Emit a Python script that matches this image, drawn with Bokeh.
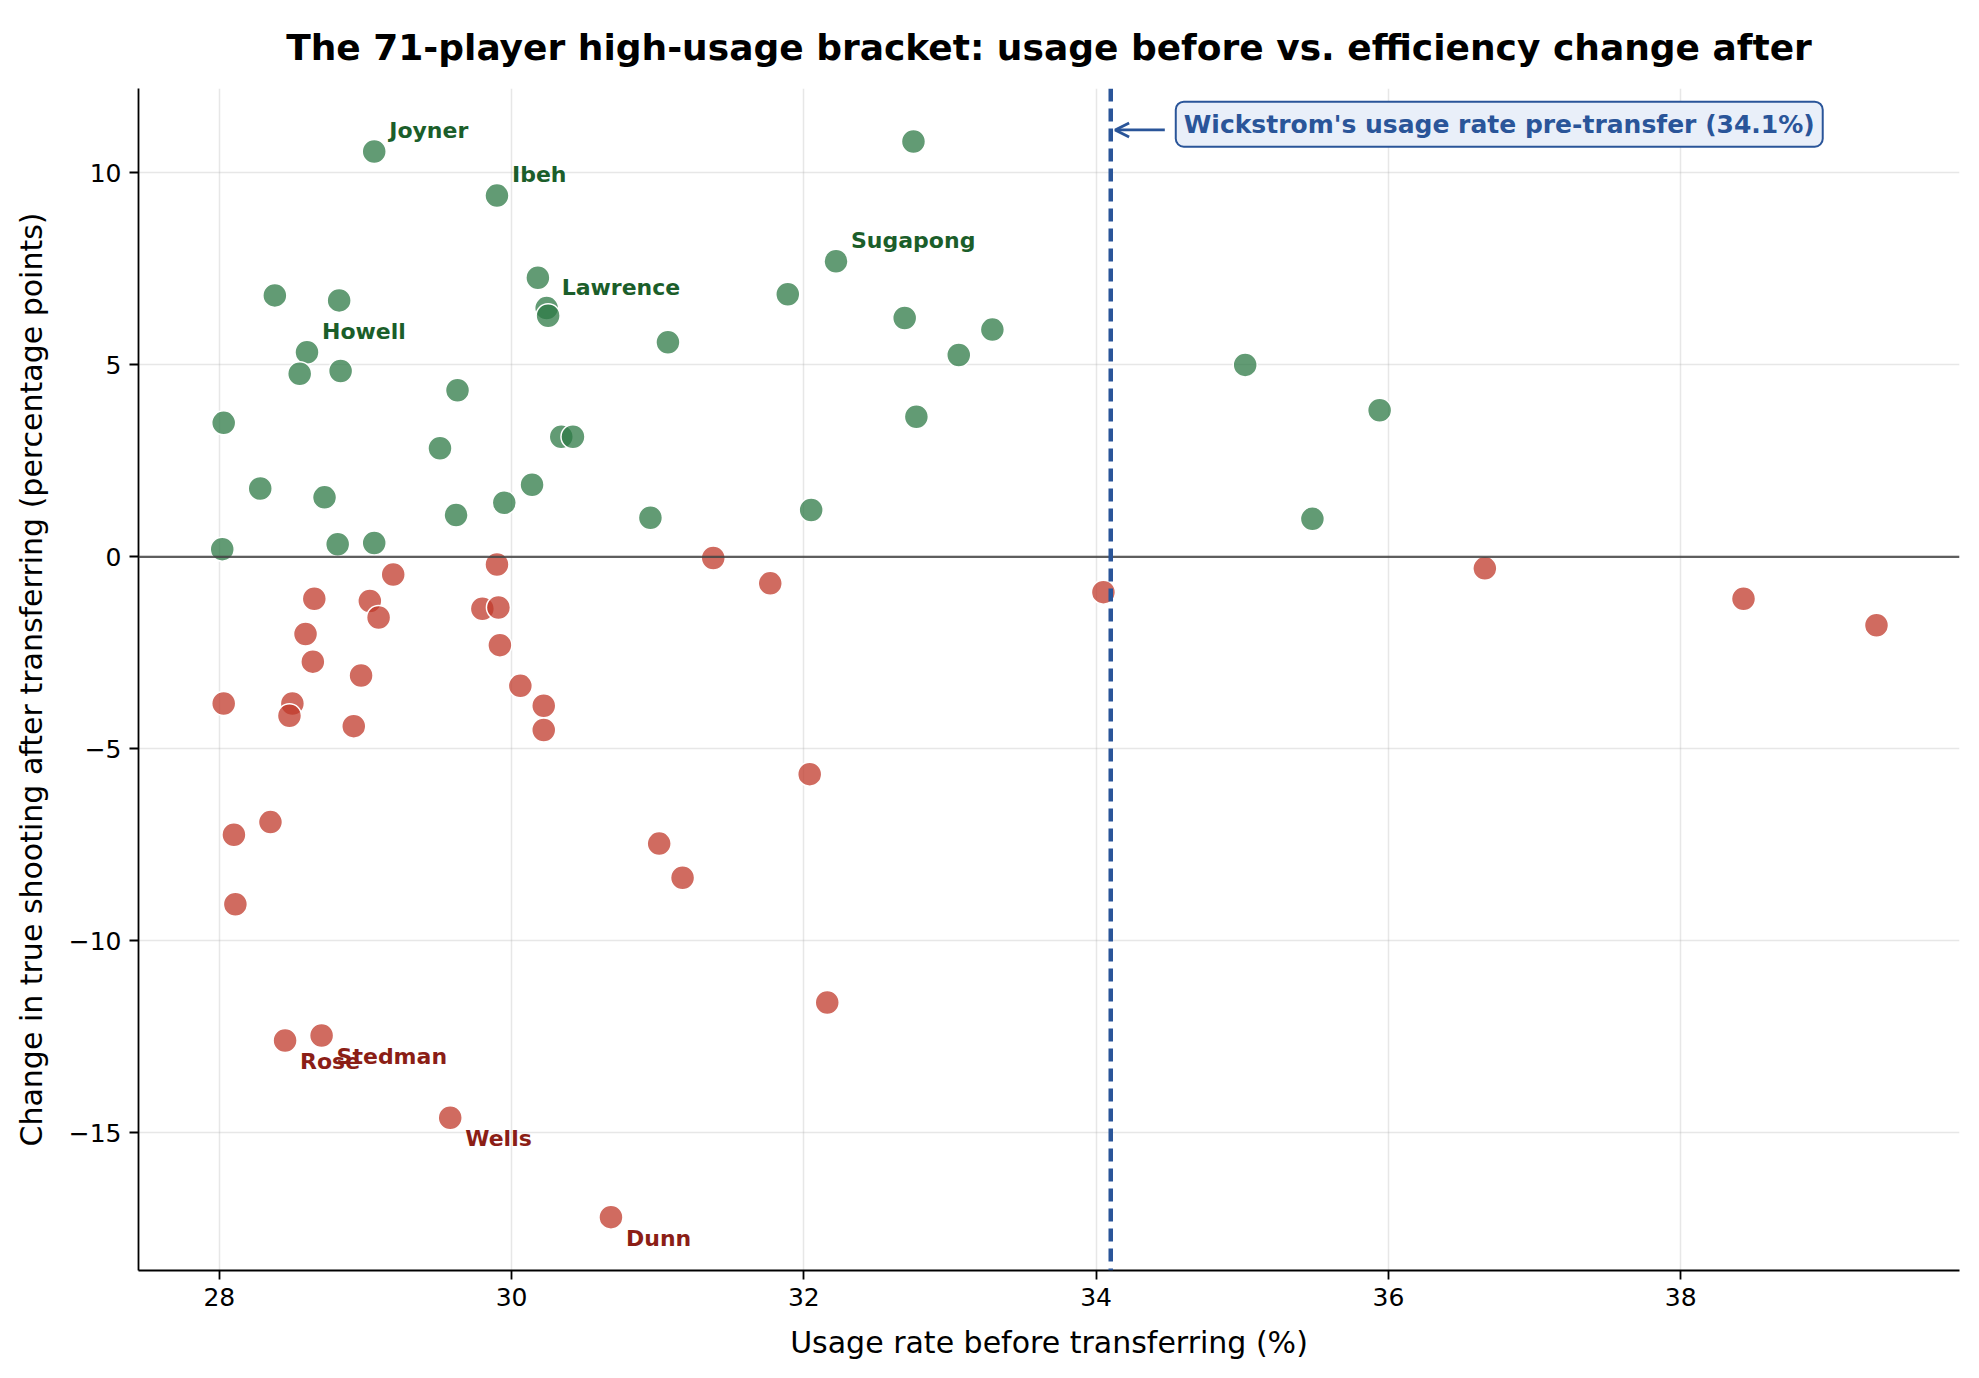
from bokeh.plotting import figure
from bokeh.models import ColumnDataSource, LabelSet, Label, Span, Arrow, OpenHead, FixedTicker
from bokeh.core.properties import value
from bokeh.embed import file_html
from bokeh.resources import INLINE

# players whose efficiency went up after transferring
up_usage = [29.06, 29.90, 32.75, 32.22, 30.18, 30.24, 30.25, 28.38, 28.82, 28.60,
            28.55, 28.83, 31.89, 32.69, 33.29, 33.06, 31.07, 29.63, 32.77, 35.02,
            35.94, 28.03, 29.51, 30.34, 30.42, 28.28, 28.72, 30.14, 29.95, 29.62,
            30.95, 32.05, 35.48, 28.02, 28.81, 29.06]
up_change = [10.56, 9.41, 10.82, 7.70, 7.27, 6.48, 6.28, 6.81, 6.68, 5.33,
             4.77, 4.84, 6.84, 6.22, 5.92, 5.26, 5.59, 4.34, 3.65, 5.00,
             3.82, 3.49, 2.83, 3.13, 3.13, 1.78, 1.55, 1.88, 1.41, 1.09,
             1.02, 1.22, 0.99, 0.20, 0.33, 0.36]
up_names = ["Joyner", "Ibeh", "", "Sugapong", "", "Lawrence", "", "", "", "Howell",
            "", "", "", "", "", "", "", "", "", "",
            "", "", "", "", "", "", "", "", "", "",
            "", "", "", "", "", ""]

# players whose efficiency went down
down_usage = [31.38, 31.77, 29.90, 29.19, 28.65, 29.03, 29.09, 29.80, 29.91, 28.59,
              28.64, 29.92, 28.97, 30.06, 28.03, 28.50, 28.48, 30.22, 30.22, 28.92,
              34.05, 36.66, 38.43, 39.34, 32.04, 28.10, 28.35, 28.11, 31.01, 31.17,
              32.16, 28.45, 28.70, 29.58, 30.68]
down_change = [-0.03, -0.69, -0.20, -0.46, -1.09, -1.15, -1.58, -1.35, -1.32, -2.01,
               -2.73, -2.30, -3.09, -3.36, -3.82, -3.82, -4.14, -3.88, -4.51, -4.41,
               -0.92, -0.30, -1.09, -1.78, -5.66, -7.24, -6.91, -9.05, -7.47, -8.36,
               -11.61, -12.60, -12.47, -14.61, -17.20]
down_names = ["", "", "", "", "", "", "", "", "", "",
              "", "", "", "", "", "", "", "", "", "",
              "", "", "", "", "", "", "", "", "", "",
              "", "Rose", "Stedman", "Wells", "Dunn"]

wickstrom_usage = 34.1
x_ticks = [28, 30, 32, 34, 36, 38]
y_ticks = [-15, -10, -5, 0, 5, 10]

FONT = "DejaVu Sans"
GREEN = "#2d7a45"
RED = "#c0392b"
BLUE = "#2a5599"

p = figure(width=1970, height=1370, output_backend="svg", toolbar_location=None,
           x_range=(27.447, 39.908), y_range=(-18.59, 12.20),
           min_border_left=138, min_border_right=11, min_border_top=88, min_border_bottom=100,
           title="The 71-player high-usage bracket: usage before vs. efficiency change after")
p.outline_line_color = None
p.background_fill_color = "white"

p.title.align = "center"
p.title.text_font = FONT
p.title.text_font_size = "36px"
p.title.text_font_style = "bold"
p.title.text_color = "black"
p.title.standoff = 42

for ax in (p.xaxis, p.yaxis):
    ax.axis_label_text_font = FONT
    ax.axis_label_text_font_size = "30px"
    ax.axis_label_text_font_style = "normal"
    ax.axis_label_text_color = "black"
    ax.major_label_text_font = FONT
    ax.major_label_text_font_size = "25px"
    ax.major_label_text_color = "black"
    ax.axis_line_color = "black"
    ax.axis_line_width = 1.8
    ax.major_tick_line_color = "black"
    ax.major_tick_line_width = 1.8
    ax.major_tick_out = 9
    ax.major_tick_in = 0
    ax.minor_tick_line_color = None

p.xaxis.axis_label = "Usage rate before transferring (%)"
p.yaxis.axis_label = "Change in true shooting after transferring (percentage points)"
p.xaxis.ticker = FixedTicker(ticks=x_ticks)
p.yaxis.ticker = FixedTicker(ticks=y_ticks)
p.yaxis.major_label_overrides = {t: str(t).replace("-", "\u2212") for t in y_ticks}
p.xaxis.major_label_standoff = 8
p.yaxis.major_label_standoff = 8
p.xaxis.axis_label_standoff = 16
p.yaxis.axis_label_standoff = 17

p.xgrid.ticker = FixedTicker(ticks=x_ticks)
p.ygrid.ticker = FixedTicker(ticks=y_ticks)
p.grid.grid_line_color = "#b0b0b0"
p.grid.grid_line_alpha = 0.3
p.grid.grid_line_width = 1.5

# zero line and Wickstrom's marker
p.add_layout(Span(location=0, dimension="width", line_color="#444444", line_width=2.2, line_alpha=0.85))
p.add_layout(Span(location=wickstrom_usage, dimension="height", line_color=BLUE,
                  line_width=4.5, line_dash="13 7"))

up_src = ColumnDataSource(dict(x=up_usage, y=up_change, name=up_names))
down_src = ColumnDataSource(dict(x=down_usage, y=down_change, name=down_names))

p.scatter("x", "y", source=up_src, size=24, fill_color=GREEN, fill_alpha=0.75,
          line_color="white", line_width=1.5)
p.scatter("x", "y", source=down_src, size=24, fill_color=RED, fill_alpha=0.75,
          line_color="white", line_width=1.5)

p.add_layout(LabelSet(x="x", y="y", text="name", source=up_src, x_offset=15, y_offset=21,
                      text_baseline="middle", text_font=value(FONT), text_font_size="22px",
                      text_font_style="bold", text_color="#1b5e2a"))
p.add_layout(LabelSet(x="x", y="y", text="name", source=down_src, x_offset=15, y_offset=-21,
                      text_baseline="middle", text_font=value(FONT), text_font_size="22px",
                      text_font_style="bold", text_color="#8b1e16"))

# annotation pointing at the dashed line
p.add_layout(Arrow(end=OpenHead(size=14, line_color=BLUE, line_width=2.8),
                   x_start=34.47, y_start=11.12, x_end=34.13, y_end=11.12,
                   line_color=BLUE, line_width=2.8))
p.add_layout(Label(x=34.545, y=11.27, text="Wickstrom's usage rate pre-transfer (34.1%)",
                   text_baseline="middle", text_align="left", text_font=FONT,
                   text_font_size="25px", text_font_style="bold", text_color=BLUE,
                   background_fill_color="#e9eff9", border_line_color=BLUE,
                   border_line_width=2, padding=8, border_radius=8))

open("out.html", "w").write(file_html(p, INLINE))
